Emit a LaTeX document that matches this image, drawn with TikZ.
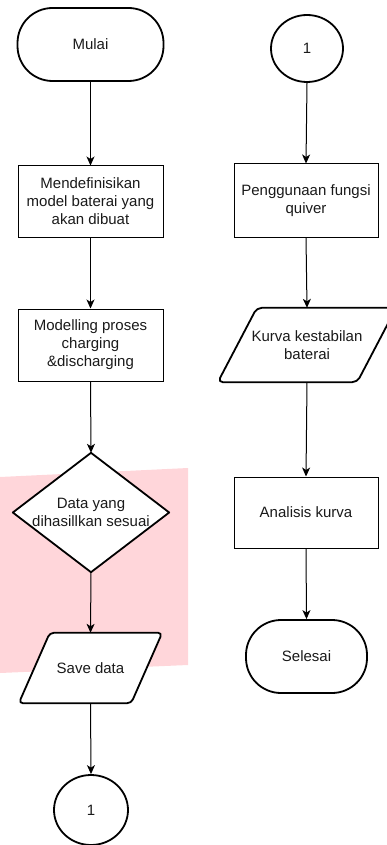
\documentclass[tikz,border=0pt]{standalone}
\usepackage{fontspec}
\setmainfont{Liberation Sans}
\usetikzlibrary{shapes.geometric,arrows.meta,calc}
\pgfdeclarelayer{bg}
\pgfsetlayers{bg,main}
\definecolor{pinkbg}{RGB}{255,214,218}
\definecolor{txt}{RGB}{26,26,26}
\tikzset{
  base/.style={font=\fontsize{15}{18}\selectfont, text=txt, align=center, inner sep=0pt},
  procbox/.style={base, draw=black, line width=1pt, fill=white, rectangle, minimum width=144pt, minimum height=72pt},
  termbox/.style={base, draw=black, line width=1.8pt, fill=white, rectangle, rounded corners=35pt},
  conn/.style={base, draw=black, line width=1.8pt, fill=white, ellipse},
  frame/.style={base, draw=none, rectangle},
  outline/.style={draw=black, line width=1.8pt, fill=white, line join=round},
  flow/.style={draw=black, line width=1pt, -{Stealth[length=9pt,width=8pt,inset=2.5pt]}}
}
\begin{document}
\begin{tikzpicture}[x=1pt,y=-1pt]
\useasboundingbox (0,0) rectangle (387,845);
\clip (0,0) rectangle (387,845);
% pink background region
\begin{pgfonlayer}{bg}
\fill[pinkbg] (0,477) -- (188,468) -- (188,665) -- (0,673) -- cycle;
\end{pgfonlayer}
% left column
\node[termbox, minimum width=146pt, minimum height=73pt] (start) at (90.5,44.5) {Mulai};
\node[procbox, minimum width=145pt, minimum height=71pt] (def) at (90.5,201.5) {Mendefinisikan\\model baterai yang\\akan dibuat};
\node[procbox, minimum width=145pt, minimum height=72pt] (model) at (90.5,345) {Modelling proses\\charging\\\&discharging};
\node[frame, minimum width=156pt, minimum height=119pt] (dec) at (91,512.5) {Data yang\\dihasillkan sesuai};
\node[frame, minimum width=143pt, minimum height=70pt] (save) at (90.5,668) {Save data};
\node[conn, minimum width=74pt, minimum height=70pt] (c1) at (91,810) {1};
% right column
\node[conn, minimum width=72pt, minimum height=67pt] (c2) at (307,48.5) {1};
\node[procbox, minimum width=144pt, minimum height=73pt] (quiver) at (306,200.5) {Penggunaan fungsi\\quiver};
\node[frame, minimum width=178pt, minimum height=74pt] (kurva) at (307,345) {Kurva kestabilan\\baterai};
\node[procbox, minimum width=144pt, minimum height=71pt] (anal) at (306,512.5) {Analisis kurva};
\node[termbox, minimum width=121pt, minimum height=73pt] (end) at (306.5,656.5) {Selesai};
% custom outlines
\begin{pgfonlayer}{bg}
\draw[outline] (dec.north) -- (dec.east) -- (dec.south) -- (dec.west) -- cycle;
\draw[outline, rounded corners=4pt] ($(save.north west)+(31,0)$) -- (save.north east) -- ($(save.south east)-(31,0)$) -- (save.south west) -- cycle;
\draw[outline, rounded corners=5pt] ($(kurva.north west)+(39,0)$) -- (kurva.north east) -- ($(kurva.south east)-(39,0)$) -- (kurva.south west) -- cycle;
\end{pgfonlayer}
% connectors
\draw[flow] (start.south) -- (def.north);
\draw[flow] (def.south) -- (model.north);
\draw[flow] (model.south) -- (dec.north);
\draw[flow] (dec.south) -- (save.north);
\draw[flow] (save.south) -- (c1.north);
\draw[flow] (c2.south) -- (quiver.north);
\draw[flow] (quiver.south) -- (kurva.north);
\draw[flow] (kurva.south) -- (anal.north);
\draw[flow] (anal.south) -- (end.north);
\end{tikzpicture}
\end{document}
